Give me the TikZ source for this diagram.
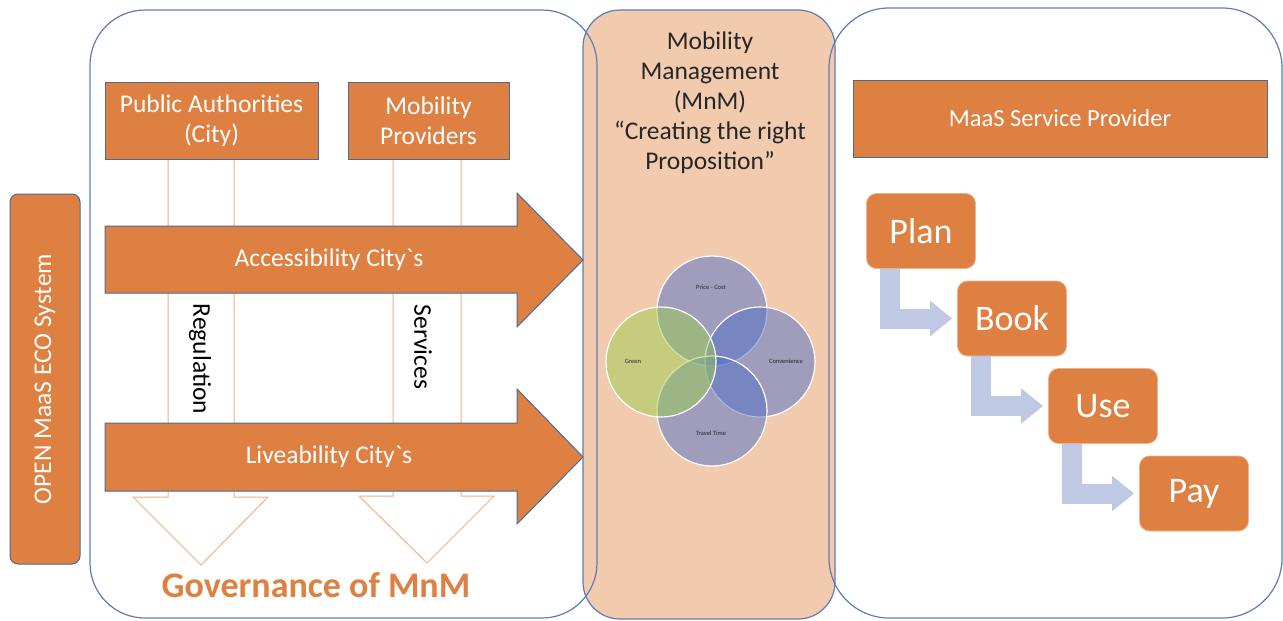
\documentclass[tikz,border=0pt]{standalone}
\usepackage{fontspec}
\setmainfont{Carlito}[Ligatures=TeXOff]
\usetikzlibrary{positioning,arrows.meta,calc}
\definecolor{mnmorange}{HTML}{DF8043}
\definecolor{boxline}{HTML}{4A6A98}
\definecolor{panelline}{HTML}{5E7CB4}
\definecolor{peach}{HTML}{F2CBAE}
\definecolor{lightorange}{HTML}{F4B183}
\definecolor{stepblue}{HTML}{BFC9E3}
\definecolor{vennblue}{HTML}{4F6FC8}
\definecolor{venngreen}{HTML}{9CCD4F}
\tikzset{
panel/.style={draw=panelline, line width=1.2pt},
actor/.style={draw=boxline, line width=1pt, fill=mnmorange, text=white, align=center, inner sep=0pt},
cityarrow/.style={draw=boxline, line width=1pt, fill=mnmorange},
govarrow/.style={draw=lightorange, line width=1pt, fill=white},
stepbox/.style={fill=mnmorange, draw=mnmorange!60!white, line width=0.8pt, rounded corners=10pt, text=white, minimum width=109pt, minimum height=75pt, font=\fontsize{36}{40}\selectfont},
steparrow/.style={draw=stepblue, line width=20pt, -{Triangle[width=34pt,length=22pt]}, shorten >=5pt},
venn/.style={draw=white, line width=1.2pt, fill opacity=0.5},
vennlabel/.style={font=\fontsize{6.5}{8}\selectfont, text=black!85},
}

\begin{document}
\begin{tikzpicture}[x=1pt, y=-1pt, font=\fontsize{25.5}{30}\selectfont]
        \useasboundingbox (0,0) rectangle (1283,621);
        % panels
        \draw[panel, fill=peach, rounded corners=37pt] (583,10) rectangle (835,619);
        \draw[panel, rounded corners=55pt] (90,10) rectangle (597,618);
        \draw[panel, rounded corners=60pt] (829,8) rectangle (1282,618);

        \node[actor, rounded corners=8pt, rotate=90, minimum width=370pt, minimum height=70pt] (open) at (45,379) {OPEN MaaS ECO System};

        % governance arrows
        \draw[govarrow] (168,159) -- (168,497) -- (133,497) -- (201,565) -- (268,497) -- (234,497) -- (234,159) -- cycle;
        \draw[govarrow] (393,159) -- (393,496) -- (359,496) -- (427,563) -- (494,496) -- (461,496) -- (461,159) -- cycle;

        \node[actor, minimum width=213pt, minimum height=77pt] (pa) at (211.5,120.5) {Public Authorities\\(City)};
        \node[actor, minimum width=161pt, minimum height=77pt] (mp) at (428.5,120.5) {Mobility\\Providers};

        \draw[cityarrow] (105,226) -- (517,226) -- (517,193) -- (583,260) -- (517,327) -- (517,293) -- (105,293) -- cycle;
        \draw[cityarrow] (105,423) -- (517,423) -- (517,389) -- (583,457) -- (517,524) -- (517,491) -- (105,491) -- cycle;
        \node[text=white] (acc) at (329,260) {Accessibility City`s};
        \node[text=white] (live) at (329,457) {Liveability City`s};

        \node[rotate=-90] (reg) at (200,359) {Regulation};
        \node[rotate=-90] (serv) at (423,347) {Services};
        \node[text=mnmorange, font=\bfseries\fontsize{36}{40}\selectfont] (gov) at (316,585) {Governance of MnM};

        % mobility management
        \node[align=center, text=black!85] (mnm) at (710,103) {Mobility\\Management\\(MnM)\\“Creating the right\\Proposition”};
        \draw[venn, fill=vennblue] (712,311) circle[radius=55];
        \draw[venn, fill=vennblue] (760,362) circle[radius=55];
        \draw[venn, fill=vennblue] (712,411) circle[radius=55];
        \draw[venn, fill=venngreen] (661,362) circle[radius=55];
        \node[vennlabel] (cost) at (711,287) {Price - Cost};
        \node[vennlabel] (green) at (633,361) {Green};
        \node[vennlabel] (conv) at (786,361) {Convenience};
        \node[vennlabel] (time) at (711,433) {Travel Time};

        % maas
        \node[actor, minimum width=414pt, minimum height=77pt, font=\fontsize{24.5}{28}\selectfont] (maas) at (1060,118.5) {MaaS Service Provider};
        \foreach \name/\txt [count=\i from 0] in {plan/Plan,book/Book,use/Use,pay/Pay}
            \node[stepbox] (\name) at (921+91*\i, 231+87.5*\i) {\txt};
        \foreach \a/\b in {plan/book,book/use,use/pay}
            \draw[steparrow] ($(\a.south west)+(24,0)$) |- (\b.west);
    \end{tikzpicture}
\end{document}
